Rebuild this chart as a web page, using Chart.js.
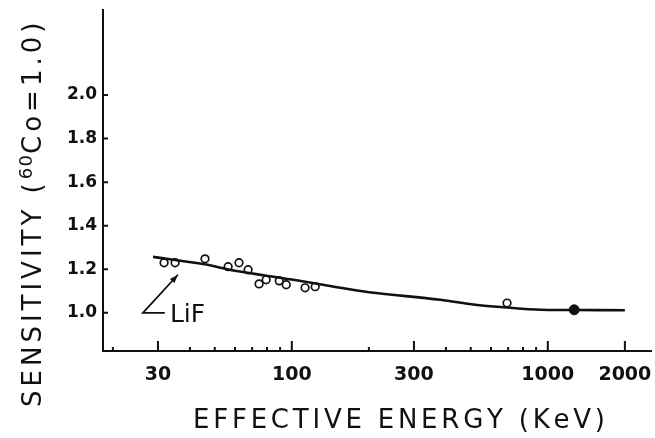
<!DOCTYPE html>
<html>
<head>
<meta charset="utf-8">
<script src="https://cdn.jsdelivr.net/npm/chart.js@4"></script>
<style>
html, body { margin: 0; padding: 0; background: #fff; }
</style>
</head>
<body>
<canvas id="sensChart" width="655" height="438"></canvas>
<script>
// LiF measurements (open circles)
const energy = [31.7, 35.0, 45.8, 56.4, 62.2, 67.5, 74.5, 79.4, 89.3, 95.1, 112.7, 123.4, 693];
const sensitivity = [1.23, 1.23, 1.248, 1.212, 1.23, 1.198, 1.133, 1.152, 1.147, 1.129, 1.115, 1.12, 1.045];

// 60Co reference point (filled)
const cobaltEnergy = [1268];
const cobaltSens = [1.014];

// drawn curve
const curveEnergy = [28.7, 45, 60, 100, 150, 200, 380, 520, 670, 940, 1270, 2000];
const curveSens = [1.257, 1.224, 1.193, 1.153, 1.118, 1.095, 1.06, 1.037, 1.026, 1.014, 1.013, 1.012];

const xMajor = [30, 100, 300, 1000, 2000];
const xMinor = [20, 40, 50, 60, 70, 80, 90, 200, 400, 500, 600, 700, 800, 900];
const yTicks = [1.0, 1.2, 1.4, 1.6, 1.8, 2.0];

const INK = "#111";
const FONT = '"DejaVu Sans", sans-serif';

// parts: [text, size, raise]
function spacedText(ctx, parts, cx, cy, target) {
  const glyphs = [];
  parts.forEach(([t, size, raise]) => {
    [...t].forEach(c => glyphs.push({ c, size, raise }));
  });
  let natural = 0;
  glyphs.forEach(g => {
    ctx.font = g.size + "px " + FONT;
    g.w = ctx.measureText(g.c).width;
    natural += g.w;
  });
  const gap = (target - natural) / (glyphs.length - 1);
  let x = cx - target / 2;
  ctx.textAlign = "left";
  ctx.textBaseline = "alphabetic";
  glyphs.forEach(g => {
    ctx.font = g.size + "px " + FONT;
    ctx.fillText(g.c, x, cy - g.raise);
    x += g.w + (g.raise ? gap * 0.3 : gap);
  });
}

const extras = {
  id: "extras",
  afterDraw(chart) {
    const { ctx, chartArea: a } = chart;
    const x = chart.scales.x, y = chart.scales.y;
    ctx.save();
    ctx.strokeStyle = INK;
    ctx.lineWidth = 2;
    ctx.beginPath();
    xMajor.forEach(v => {
      const px = x.getPixelForValue(v);
      ctx.moveTo(px, a.bottom); ctx.lineTo(px, a.bottom - 10);
    });
    xMinor.forEach(v => {
      const px = x.getPixelForValue(v);
      ctx.moveTo(px, a.bottom); ctx.lineTo(px, a.bottom - 4);
    });
    yTicks.forEach(v => {
      const py = y.getPixelForValue(v);
      ctx.moveTo(a.left, py); ctx.lineTo(a.left + 5, py);
    });
    ctx.stroke();

    // LiF pointer
    const cx = x.getPixelForValue(26.2), cy = y.getPixelForValue(1.0);
    const tx = x.getPixelForValue(35.9), ty = y.getPixelForValue(1.175);
    ctx.lineWidth = 1.8;
    ctx.beginPath();
    ctx.moveTo(x.getPixelForValue(31.9), cy);
    ctx.lineTo(cx, cy);
    ctx.lineTo(tx, ty);
    ctx.stroke();
    const ang = Math.atan2(ty - cy, tx - cx);
    ctx.fillStyle = INK;
    ctx.beginPath();
    ctx.moveTo(tx, ty);
    ctx.lineTo(tx - 9 * Math.cos(ang - 0.35), ty - 9 * Math.sin(ang - 0.35));
    ctx.lineTo(tx - 9 * Math.cos(ang + 0.35), ty - 9 * Math.sin(ang + 0.35));
    ctx.closePath();
    ctx.fill();
    ctx.font = "25px " + FONT;
    ctx.textBaseline = "alphabetic";
    ctx.textAlign = "left";
    ctx.fillText("LiF", x.getPixelForValue(33.4), y.getPixelForValue(0.959));

    // axis titles
    spacedText(ctx, [["EFFECTIVE ENERGY (KeV)", 26, 0]], 399, 428, 412);
    ctx.translate(41, 212);
    ctx.rotate(-Math.PI / 2);
    spacedText(ctx, [["SENSITIVITY (", 26, 0], ["60", 18, 9], ["Co=1.0)", 26, 0]], 0, 0, 390);
    ctx.restore();
  }
};

const toPts = (xs, ys) => xs.map((v, i) => ({ x: v, y: ys[i] }));

new Chart(document.getElementById("sensChart"), {
  type: "scatter",
  data: {
    datasets: [
      {
        label: "LiF",
        data: toPts(energy, sensitivity),
        pointStyle: "circle",
        pointRadius: 3.8,
        pointBorderWidth: 1.7,
        pointBorderColor: INK,
        pointBackgroundColor: "rgba(255,255,255,0)",
        order: 1
      },
      {
        label: "60Co",
        data: toPts(cobaltEnergy, cobaltSens),
        pointRadius: 5,
        pointBorderWidth: 1,
        pointBorderColor: INK,
        pointBackgroundColor: INK,
        order: 0
      },
      {
        label: "curve",
        data: toPts(curveEnergy, curveSens),
        showLine: true,
        borderColor: INK,
        borderWidth: 2.6,
        tension: 0.35,
        pointRadius: 0,
        order: 2
      }
    ]
  },
  options: {
    responsive: false,
    animation: false,
    devicePixelRatio: 1,
    layout: { autoPadding: false, padding: { top: 10, right: 4, left: 0, bottom: 0 } },
    plugins: { legend: { display: false }, tooltip: { enabled: false } },
    scales: {
      x: {
        type: "logarithmic",
        min: 18.3,
        max: 2530,
        afterBuildTicks: s => { s.ticks = xMajor.map(v => ({ value: v })); },
        afterFit: s => { s.height = 87; s.paddingLeft = 0; s.paddingRight = 0; },
        grid: { display: false, drawTicks: false },
        border: { display: true, color: INK, width: 2 },
        ticks: {
          color: INK,
          font: { family: FONT, size: 19, weight: "bold" },
          padding: 13,
          maxRotation: 0,
          autoSkip: false,
          callback: v => String(v)
        }
      },
      y: {
        min: 0.825,
        max: 2.39,
        afterBuildTicks: s => { s.ticks = yTicks.map(v => ({ value: v })); },
        afterFit: s => { s.width = 103; s.paddingTop = 0; s.paddingBottom = 0; },
        grid: { display: false, drawTicks: false },
        border: { display: true, color: INK, width: 2 },
        ticks: {
          color: INK,
          font: { family: FONT, size: 17, weight: "bold" },
          padding: 6,
          callback: v => Number(v).toFixed(1)
        }
      }
    }
  },
  plugins: [extras]
});
</script>
</body>
</html>
